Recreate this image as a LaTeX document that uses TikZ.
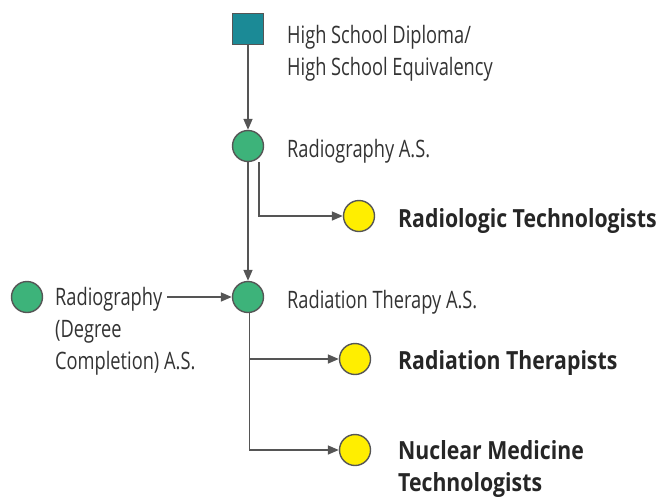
\documentclass[tikz,border=0pt]{standalone}
\usepackage{fontspec}
\setmainfont{Open Sans}[FakeStretch=0.76]
\newfontfamily\bcond{Open Sans}[FakeStretch=0.85]
\usetikzlibrary{arrows.meta}
\definecolor{lineg}{HTML}{555555}
\definecolor{teal}{HTML}{1B8A96}
\definecolor{grn}{HTML}{3DB37A}
\definecolor{yel}{HTML}{FFEE00}
\definecolor{txt}{HTML}{333333}
\tikzset{
  conn/.style={draw=lineg, line width=1.6pt, -{Triangle[length=11pt,width=9pt]}},
  sq/.style={draw=lineg, line width=1.4pt, fill=teal, minimum size=31pt, inner sep=0pt},
  gc/.style={circle, draw=lineg, line width=1.4pt, fill=grn, minimum size=31pt, inner sep=0pt},
  yc/.style={circle, draw=lineg, line width=1.4pt, fill=yel, minimum size=31pt, inner sep=0pt},
  lbl/.style={anchor=west, text=txt, font=\fontsize{24}{32}\selectfont, align=left, inner sep=0pt},
  blbl/.style={anchor=west, text=black!85, font=\bcond\bfseries\fontsize{25}{32}\selectfont, align=left, inner sep=0pt}
}
\begin{document}
\begin{tikzpicture}[x=1pt,y=-1pt]
\useasboundingbox (0,0) rectangle (660,498);
\node[sq] (hs) at (248,29) {};
\node[gc] (ras) at (248,146) {};
\node[gc] (rt) at (248,297) {};
\node[gc] (rdc) at (27,297) {};
\node[yc] (rtech) at (359,216) {};
\node[yc] (rther) at (355,359) {};
\node[yc] (nuc) at (355,450) {};

\node[lbl] (hsl) at (287,53) {High School Diploma/\\High School Equivalency};
\node[lbl] (rasl) at (287,151) {Radiography A.S.};
\node[lbl] (rtl) at (287,302) {Radiation Therapy A.S.};
\node[lbl] (rdcl) at (55,331) {Radiography\\(Degree\\Completion) A.S.};
\node[blbl] (rtechl) at (398,221) {Radiologic Technologists};
\node[blbl] (rtherl) at (398,363) {Radiation Therapists};
\node[blbl] (nucl) at (398,469) {Nuclear Medicine\\Technologists};

\coordinate (c1) at (167,297);
\draw[conn] (hs.south) -- (ras.north);
\draw[conn] (ras.south) -- (rt.north);
\draw[conn] ([xshift=11pt]ras.south) |- (rtech.west);
\draw[conn] (c1) -- (rt.west);
\draw[conn] ([xshift=1.5pt]rt.south) |- (rther.west);
\draw[conn] ([xshift=1.5pt]rt.south) |- (nuc.west);
\end{tikzpicture}
\end{document}
